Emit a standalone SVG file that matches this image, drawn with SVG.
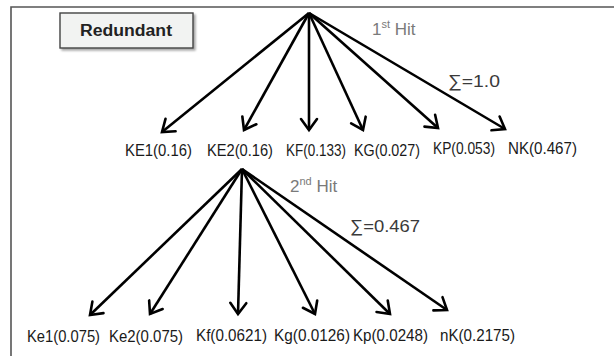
<svg xmlns="http://www.w3.org/2000/svg" width="614" height="356" viewBox="0 0 614 356">
  <style>
    .frame { stroke: #555; stroke-width: 1.6; fill: none; }
    .edge { stroke: #000; stroke-width: 2.6; fill: none; marker-end: url(#arrow); }
    .lbl { font-family: "Liberation Sans", Arial, sans-serif; font-size: 16.5px; fill: #1a1a1a; }
    .hit { font-family: "Liberation Sans", Arial, sans-serif; font-size: 17px; fill: #7a7a7a; }
    .sum { font-family: "Liberation Sans", Arial, sans-serif; font-size: 17px; fill: #3a3a3a; }
    .title { font-family: "Liberation Sans", Arial, sans-serif; font-size: 16px; font-weight: bold; fill: #222; }
  </style>
  <defs>
    <marker id="arrow" markerUnits="userSpaceOnUse" markerWidth="30" markerHeight="30" viewBox="-15 -15 30 30" refX="0" refY="0" orient="auto">
      <polyline points="-11,-8 0,0 -11,8" fill="none" stroke="#000" stroke-width="2.6" stroke-linejoin="miter" stroke-linecap="round"/>
    </marker>
    <filter id="shadow" x="-10%" y="-20%" width="130%" height="160%">
      <feGaussianBlur in="SourceAlpha" stdDeviation="1.2"/>
      <feOffset dx="1.5" dy="2" result="b"/>
      <feComponentTransfer><feFuncA type="linear" slope="0.35"/></feComponentTransfer>
      <feMerge><feMergeNode/><feMergeNode in="SourceGraphic"/></feMerge>
    </filter>
  </defs>

  <rect width="614" height="356" fill="#fff"/>
  <!-- outer frame: top and left rules -->
  <path class="frame" d="M11,356 V7 H614"/>

  <g id="redundant">
    <rect x="60" y="13" width="133" height="35" fill="#f2f3f2" stroke="#444" stroke-width="1.4" filter="url(#shadow)"/>
    <text class="title" x="126" y="36" text-anchor="middle" textLength="92" lengthAdjust="spacingAndGlyphs">Redundant</text>
  </g>

  <!-- connectors -->
  <g id="connectors">
    <line class="edge" x1="309" y1="13" x2="162" y2="132"/>
    <line class="edge" x1="309" y1="13" x2="244" y2="130"/>
    <line class="edge" x1="309" y1="13" x2="309" y2="130"/>
    <line class="edge" x1="309" y1="13" x2="363" y2="130"/>
    <line class="edge" x1="309" y1="13" x2="438" y2="128"/>
    <line class="edge" x1="309" y1="13" x2="505" y2="129"/>

    <line class="edge" x1="242" y1="169" x2="90" y2="315"/>
    <line class="edge" x1="242" y1="169" x2="150" y2="314"/>
    <line class="edge" x1="242" y1="169" x2="238" y2="314"/>
    <line class="edge" x1="242" y1="169" x2="315" y2="314"/>
    <line class="edge" x1="242" y1="169" x2="390" y2="314"/>
    <line class="edge" x1="242" y1="169" x2="447" y2="310"/>
  </g>

  <!-- hit annotations -->
  <g id="hit1">
    <text class="hit" x="372" y="35">1<tspan font-size="11" dy="-7">st</tspan><tspan dy="7"> Hit</tspan></text>
    <text class="sum" x="448" y="87" textLength="52" lengthAdjust="spacingAndGlyphs">∑=1.0</text>
  </g>
  <g id="hit2">
    <text class="hit" x="290" y="192">2<tspan font-size="11" dy="-7">nd</tspan><tspan dy="7"> Hit</tspan></text>
    <text class="sum" x="350" y="232" textLength="70" lengthAdjust="spacingAndGlyphs">∑=0.467</text>
  </g>

  <!-- first-hit outcomes -->
  <g id="KE1"><text class="lbl" x="125" y="156" textLength="67" lengthAdjust="spacingAndGlyphs">KE1(0.16)</text></g>
  <g id="KE2"><text class="lbl" x="207" y="156" textLength="66" lengthAdjust="spacingAndGlyphs">KE2(0.16)</text></g>
  <g id="KF"><text class="lbl" x="286" y="156" textLength="60" lengthAdjust="spacingAndGlyphs">KF(0.133)</text></g>
  <g id="KG"><text class="lbl" x="354" y="156" textLength="66" lengthAdjust="spacingAndGlyphs">KG(0.027)</text></g>
  <g id="KP"><text class="lbl" x="433" y="154" textLength="62" lengthAdjust="spacingAndGlyphs">KP(0.053)</text></g>
  <g id="NK"><text class="lbl" x="508" y="154" textLength="69" lengthAdjust="spacingAndGlyphs">NK(0.467)</text></g>

  <!-- second-hit outcomes -->
  <g id="Ke1"><text class="lbl" x="27" y="342" textLength="73" lengthAdjust="spacingAndGlyphs">Ke1(0.075)</text></g>
  <g id="Ke2"><text class="lbl" x="109" y="342" textLength="74" lengthAdjust="spacingAndGlyphs">Ke2(0.075)</text></g>
  <g id="Kf"><text class="lbl" x="196" y="341" textLength="71" lengthAdjust="spacingAndGlyphs">Kf(0.0621)</text></g>
  <g id="Kg"><text class="lbl" x="274" y="341" textLength="76" lengthAdjust="spacingAndGlyphs">Kg(0.0126)</text></g>
  <g id="Kp"><text class="lbl" x="353" y="341" textLength="75" lengthAdjust="spacingAndGlyphs">Kp(0.0248)</text></g>
  <g id="nK"><text class="lbl" x="440" y="341" textLength="75" lengthAdjust="spacingAndGlyphs">nK(0.2175)</text></g>
</svg>
